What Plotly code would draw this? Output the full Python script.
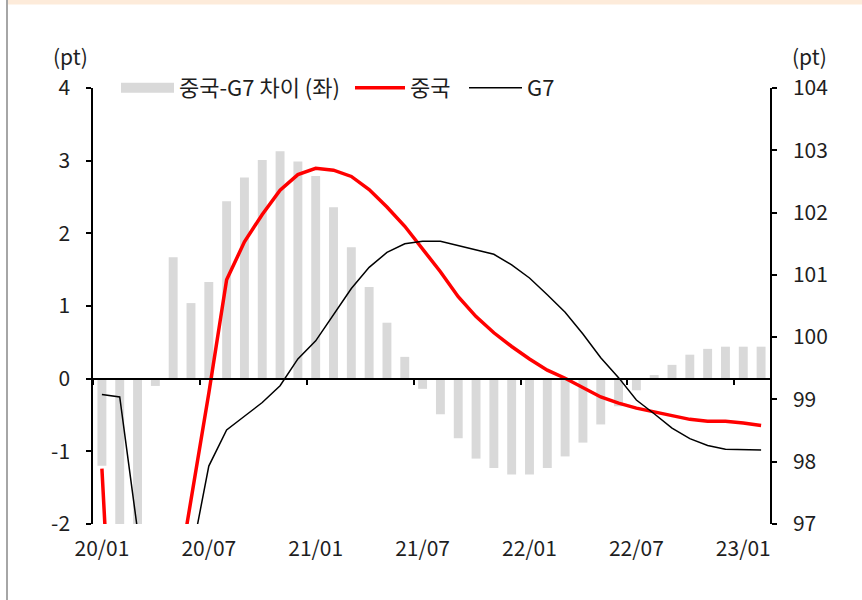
import plotly.graph_objects as go

# Monthly categories 2020/01 .. 2023/02
months = [f"{y:02d}/{m:02d}" for y in (20, 21, 22, 23) for m in range(1, 13)][:38]
tick_labels = ["20/01", "20/07", "21/01", "21/07", "22/01", "22/07", "23/01"]
left_ticks = [-2, -1, 0, 1, 2, 3, 4]
right_ticks = [97, 98, 99, 100, 101, 102, 103, 104]

# China - G7 gap (left axis, pt)
gap = [-1.20, -6.50, -3.70, -0.10, 1.67, 1.04, 1.33, 2.44, 2.77, 3.01,
       3.13, 2.99, 2.79, 2.36, 1.81, 1.26, 0.77, 0.30, -0.14, -0.49,
       -0.82, -1.10, -1.23, -1.32, -1.32, -1.23, -1.07, -0.88, -0.63, -0.38,
       -0.16, 0.05, 0.19, 0.33, 0.41, 0.44, 0.44, 0.44]

# China CLI (right axis, pt)
china = [97.89, 92.50, 93.20, 94.30, 95.67, 97.40, 99.10, 100.92, 101.53, 101.97,
         102.36, 102.61, 102.71, 102.68, 102.58, 102.37, 102.09, 101.78, 101.41, 101.05,
         100.65, 100.33, 100.07, 99.85, 99.65, 99.47, 99.34, 99.19, 99.04, 98.94,
         98.86, 98.80, 98.74, 98.68, 98.65, 98.65, 98.62, 98.58]

# G7 CLI (right axis, pt)
g7 = [99.08, 99.04, 96.90, 94.40, 94.00, 96.45, 97.93, 98.51, 98.73, 98.95,
      99.22, 99.65, 99.94, 100.36, 100.78, 101.12, 101.36, 101.50, 101.54, 101.54,
      101.47, 101.41, 101.33, 101.16, 100.95, 100.68, 100.40, 100.05, 99.67, 99.35,
      98.99, 98.77, 98.54, 98.37, 98.26, 98.20, 98.19, 98.19]

xi = list(range(len(months)))
FONT = "Noto Sans CJK KR"
TXT = "#1e1e1e"

fig = go.Figure()

fig.add_trace(go.Bar(x=xi, y=gap, marker=dict(color="#D9D9D9", line=dict(width=0)),
                     width=0.5, showlegend=False, yaxis="y", xaxis="x",
                     hovertext=months))
# legend swatch for the gap bars
fig.add_trace(go.Scatter(x=[None], y=[None], mode="lines",
                         line=dict(color="#D9D9D9", width=14),
                         name="중국-G7 차이 (좌)", legend="legend"))
fig.add_trace(go.Scatter(x=xi, y=china, mode="lines", yaxis="y2",
                         line=dict(color="#FF0000", width=3.5),
                         name="중국", legend="legend2", hovertext=months))
fig.add_trace(go.Scatter(x=xi, y=g7, mode="lines", yaxis="y2",
                         line=dict(color="#000000", width=1.5),
                         name="G7", legend="legend3", hovertext=months))
# carrier for the zero-level category axis
fig.add_trace(go.Scatter(x=[None], y=[None], xaxis="x2", yaxis="y", showlegend=False))

n = len(months)
ymin, ymax = left_ticks[0], left_ticks[-1]
zero_pos = (0 - ymin) / (ymax - ymin)

axis_common = dict(showgrid=False, zeroline=False, showline=True, linecolor="black",
                   linewidth=1.5, ticks="outside", ticklen=5, tickcolor="black",
                   tickwidth=1.5, tickfont=dict(family=FONT, size=21, color=TXT),
                   tickmode="array")

legend_common = dict(orientation="h", yanchor="middle", y=1.0, xanchor="left",
                     bgcolor="rgba(0,0,0,0)", borderwidth=0,
                     font=dict(family=FONT, size=22, color=TXT))

fig.update_layout(
    width=862, height=600,
    margin=dict(l=93, r=92, t=88, b=76),
    paper_bgcolor="white", plot_bgcolor="white",
    bargap=0.5,
    xaxis=dict(range=[-0.5, n - 0.5], tickmode="array",
               tickvals=[months.index(t) for t in tick_labels], ticktext=tick_labels,
               showgrid=False, zeroline=False, showline=False, ticks="",
               tickfont=dict(family=FONT, size=21, color=TXT), ticklabelstandoff=10),
    xaxis2=dict(range=[-0.5, n - 0.5], overlaying="x", anchor="free", position=zero_pos,
                tickmode="array", tickvals=[months.index(t) - 0.5 for t in tick_labels],
                showticklabels=False, showgrid=False, zeroline=False, showline=True,
                linecolor="black", linewidth=1.5, ticks="outside", ticklen=6,
                tickcolor="black", tickwidth=1.5),
    yaxis=dict(range=[ymin, ymax], side="left", ticklabelstandoff=12,
               tickvals=left_ticks, ticktext=[str(v) for v in left_ticks], **axis_common),
    yaxis2=dict(range=[right_ticks[0], right_ticks[-1]], side="right", overlaying="y",
                ticklabelstandoff=12, tickvals=right_ticks,
                ticktext=[str(v) for v in right_ticks], **axis_common),
    legend=dict(x=(116 - 93) / 677, itemwidth=53, **legend_common),
    legend2=dict(x=(350 - 93) / 677, itemwidth=50, **legend_common),
    legend3=dict(x=(464 - 93) / 677, itemwidth=53, **legend_common),
    annotations=[
        dict(text="(pt)", xref="paper", yref="paper", x=(70 - 93) / 677, y=(524 - 56) / 436,
             xanchor="center", yanchor="middle", showarrow=False,
             font=dict(family=FONT, size=21, color=TXT)),
        dict(text="(pt)", xref="paper", yref="paper", x=(810 - 93) / 677, y=(524 - 56) / 436,
             xanchor="center", yanchor="middle", showarrow=False,
             font=dict(family=FONT, size=21, color=TXT)),
    ],
    shapes=[
        # page frame: peach top band and grey left rule
        dict(type="rect", xref="paper", yref="paper", x0=(8 - 93) / 677, x1=(862 - 93) / 677,
             y0=(524 - 4.5) / 436, y1=524 / 436, fillcolor="#FDEBDA", line=dict(width=0),
             layer="below"),
        dict(type="line", xref="paper", yref="paper", x0=(7 - 93) / 677, x1=(7 - 93) / 677,
             y0=-76 / 436, y1=524 / 436, line=dict(color="#A6A6A6", width=2)),
    ],
)

fig.write_html("out.html")
